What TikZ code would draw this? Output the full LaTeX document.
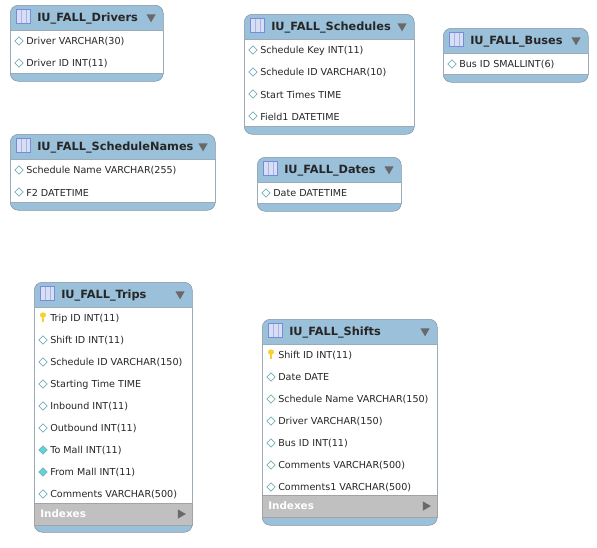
\documentclass[tikz,border=0pt]{standalone}
\usepackage{fontspec}
\setmainfont{DejaVu Sans}
\usetikzlibrary{positioning,calc,shapes.geometric}
\definecolor{colTete}{RGB}{155,192,218}
\definecolor{colBord}{RGB}{130,150,165}
\definecolor{colIndex}{RGB}{192,192,192}
\definecolor{colFleche}{RGB}{105,105,105}
\definecolor{colIcone}{RGB}{60,90,200}
\definecolor{colLos}{RGB}{120,175,185}
\definecolor{colLosPlein}{RGB}{90,215,215}
\definecolor{colCle}{RGB}{245,210,50}
\tikzset{
  tbl/.style={rectangle, rounded corners=6pt, draw=colBord, fill=colTete,
    anchor=north west, inner sep=0pt},
  tblbody/.style={rectangle, draw=colBord!80, fill=white, anchor=north west,
    inner sep=0pt},
  tbltitle/.style={font=\fontsize{8.5}{10}\selectfont\bfseries, anchor=west,
    inner sep=0pt, text=black!85},
  tblrow/.style={font=\fontsize{7.2}{9}\selectfont, anchor=west, inner sep=0pt,
    text=black!85},
  tblicon/.style={rectangle, draw=colIcone!70, fill=colIcone!20, inner sep=0pt,
    minimum width=10.5pt, minimum height=10.5pt,
    path picture={\draw[colIcone!45, line width=.4pt]
      ([xshift=3.5pt]path picture bounding box.south west)--
      ([xshift=3.5pt]path picture bounding box.north west)
      ([xshift=7pt]path picture bounding box.south west)--
      ([xshift=7pt]path picture bounding box.north west);}},
  tri/.style={regular polygon, regular polygon sides=3, fill=colFleche,
    inner sep=0pt, minimum size=8pt},
  o/.style={diamond, draw=colLos, fill=white, line width=.5pt, inner sep=0pt,
    minimum width=6.5pt, minimum height=6.5pt},
  f/.style={o, fill=colLosPlein},
  k/.style={ellipse, fill=colCle, inner sep=0pt, yshift=2.2pt,
    minimum width=4.6pt, minimum height=4pt,
    append after command={(\tikzlastnode.center) edge[colCle, line width=1.7pt]
      ++(0,6.5)}},
  idxbar/.style={rectangle, fill=colIndex, draw=colIndex!85!black,
    line width=.4pt, anchor=north west, inner sep=0pt},
  idxtext/.style={font=\fontsize{7.8}{9}\selectfont\bfseries, text=white,
    anchor=west, inner sep=0pt}
}
% name, x, y, width, height, title, rows
\newcommand{\tablebox}[7]{
  \node[tbl, minimum width=#4*.75pt, minimum height=#5*.75pt] (#1) at (#2,#3) {};
  \node[tblbody, minimum width=#4*.75pt, minimum height=(#5-33)*.75pt] (#1-body)
    at ($(#1.north west)+(0,25)$) {};
  \node[tblicon] (#1-icon) at ($(#1.north west)+(13.5,11.5)$) {};
  \node[tbltitle] (#1-title) at ($(#1.north west)+(27,14)$) {#6};
  \node[tri, shape border rotate=180] (#1-tri) at ($(#1.north east)+(-12.5,12)$) {};
  \foreach \kind/\txt [count=\i] in {#7} {
    \node[\kind] (#1-mark-\i) at ($(#1.north west)+(9,14+22*\i)$) {};
    \node[tblrow] (#1-row-\i) at ($(#1.north west)+(16,14.5+22*\i)$) {\txt};
  }
}
% name, y offset from the top of the table, width
\newcommand{\indexbar}[3]{
  \node[idxbar, minimum width=#3*.75pt, minimum height=21.5*.75pt] (#1-idx)
    at ($(#1.north west)+(0,#2)$) {};
  \node[idxtext] (#1-idxtext) at ($(#1-idx.west)+(6,0)$) {Indexes};
  \node[tri, shape border rotate=-90] (#1-idxtri) at ($(#1-idx.east)+(-12,0)$) {};
}

\begin{document}
\begin{tikzpicture}[x=.75pt, y=-.75pt]
  \useasboundingbox (0,0) rectangle (597,547);
  \tablebox{drivers}{10}{5}{153}{76}{IU\_FALL\_Drivers}
    {o/Driver VARCHAR(30), o/Driver ID INT(11)}
  \tablebox{schedules}{244}{14}{170}{120}{IU\_FALL\_Schedules}
    {o/Schedule Key INT(11), o/Schedule ID VARCHAR(10), o/Start Times TIME,
     o/Field1 DATETIME}
  \tablebox{buses}{443}{28}{145}{54}{IU\_FALL\_Buses}
    {o/Bus ID SMALLINT(6)}
  \tablebox{schednames}{10}{134}{205}{76}{IU\_FALL\_ScheduleNames}
    {o/Schedule Name VARCHAR(255), o/F2 DATETIME}
  \tablebox{dates}{257}{157}{144}{54}{IU\_FALL\_Dates}
    {o/Date DATETIME}
  \tablebox{trips}{34}{282}{158}{250}{IU\_FALL\_Trips}
    {k/Trip ID INT(11), o/Shift ID INT(11), o/Schedule ID VARCHAR(150),
     o/Starting Time TIME, o/Inbound INT(11), o/Outbound INT(11),
     f/To Mall INT(11), f/From Mall INT(11), o/Comments VARCHAR(500)}
  \indexbar{trips}{221}{158}
  \tablebox{shifts}{262}{319}{175}{206}{IU\_FALL\_Shifts}
    {k/Shift ID INT(11), o/Date DATE, o/Schedule Name VARCHAR(150),
     o/Driver VARCHAR(150), o/Bus ID INT(11), o/Comments VARCHAR(500),
     o/Comments1 VARCHAR(500)}
  \indexbar{shifts}{176}{175}
\end{tikzpicture}
\end{document}
